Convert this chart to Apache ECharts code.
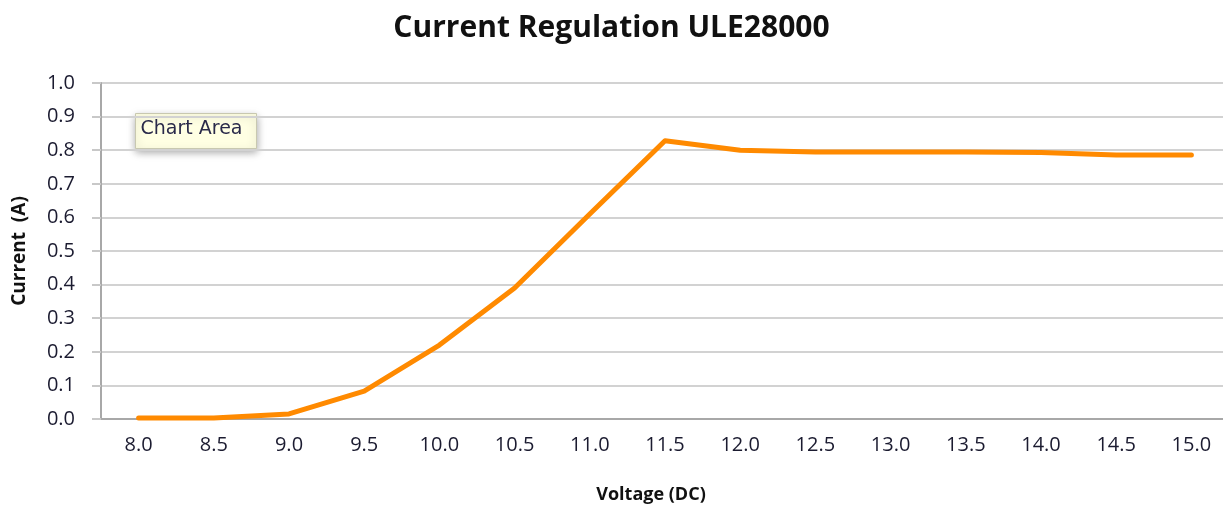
<!DOCTYPE html>
<html><head><meta charset="utf-8">
<script src="https://cdn.jsdelivr.net/npm/echarts@6/dist/echarts.min.js"></script>
<style>html,body{margin:0;padding:0;background:#fff}#c{width:1223px;height:506px}</style>
</head><body><div id="c"></div>
<script>
const categories = ['8.0','8.5','9.0','9.5','10.0','10.5','11.0','11.5','12.0','12.5','13.0','13.5','14.0','14.5','15.0'];
const current = [0.003,0.003,0.015,0.083,0.22,0.39,0.61,0.828,0.80,0.795,0.795,0.795,0.793,0.786,0.786];
const titleText = 'Current Regulation ULE28000';
const xName = 'Voltage (DC)';
const yName = 'Current  (A)';
const tipText = 'Chart Area';

const chart = echarts.init(document.getElementById('c'));
const txt = '#1b1b30';
chart.setOption({
  animation: false,
  title: {text: titleText, left: 'center', top: 8,
    textStyle: {fontFamily: 'Open Sans', fontWeight: 'bold', fontSize: 30, color: '#111'}},
  grid: {left: 101, top: 83, width: 1128, height: 336, outerBoundsMode: 'none', containLabel: false},
  xAxis: {
    type: 'category', data: categories, boundaryGap: true,
    name: xName, nameLocation: 'middle', nameGap: 67,
    nameTextStyle: {fontFamily: 'Open Sans', fontWeight: 'bold', fontSize: 18, color: '#111', padding: [0, 28, 0, 0]},
    axisLine: {lineStyle: {color: '#a8a8a8', width: 2}},
    axisTick: {alignWithLabel: true, length: 6, lineStyle: {color: '#b0b0b0', width: 2}},
    axisLabel: {fontFamily: 'Open Sans', fontSize: 20, color: txt, margin: 16},
    splitLine: {show: false}
  },
  yAxis: {
    type: 'value', min: 0, max: 1, interval: 0.1,
    name: yName, nameLocation: 'middle', nameGap: 72, nameRotate: 90,
    nameTextStyle: {fontFamily: 'Open Sans', fontWeight: 'bold', fontSize: 19, color: '#111'},
    axisLine: {show: true, lineStyle: {color: '#a8a8a8', width: 2}},
    axisTick: {show: true, length: 9, lineStyle: {color: '#c8c8c8', width: 2}},
    axisLabel: {fontFamily: 'Open Sans', fontSize: 20, color: txt, margin: 26,
      formatter: v => v.toFixed(1)},
    splitLine: {lineStyle: {color: '#d2d2d2', width: 2}}
  },
  series: [{
    type: 'line', data: current, showSymbol: false, symbol: 'none',
    lineStyle: {color: '#ff8a00', width: 5, cap: 'round', join: 'round'},
    itemStyle: {color: '#ff8a00'}
  }],
  graphic: [{
    type: 'group', left: 135, top: 113,
    children: [
      {type: 'rect', shape: {x: 0, y: 0, width: 121, height: 35},
       style: {fill: '#ffffe3', stroke: '#c8c8b0', lineWidth: 1,
         shadowBlur: 8, shadowColor: 'rgba(0,0,0,0.35)', shadowOffsetY: 3}},
      {type: 'text', x: 5, y: 6,
       style: {text: tipText, fontFamily: 'DejaVu Sans', fontSize: 19, fill: '#2a2a4a'}}
    ]
  }]
});
</script></body></html>
